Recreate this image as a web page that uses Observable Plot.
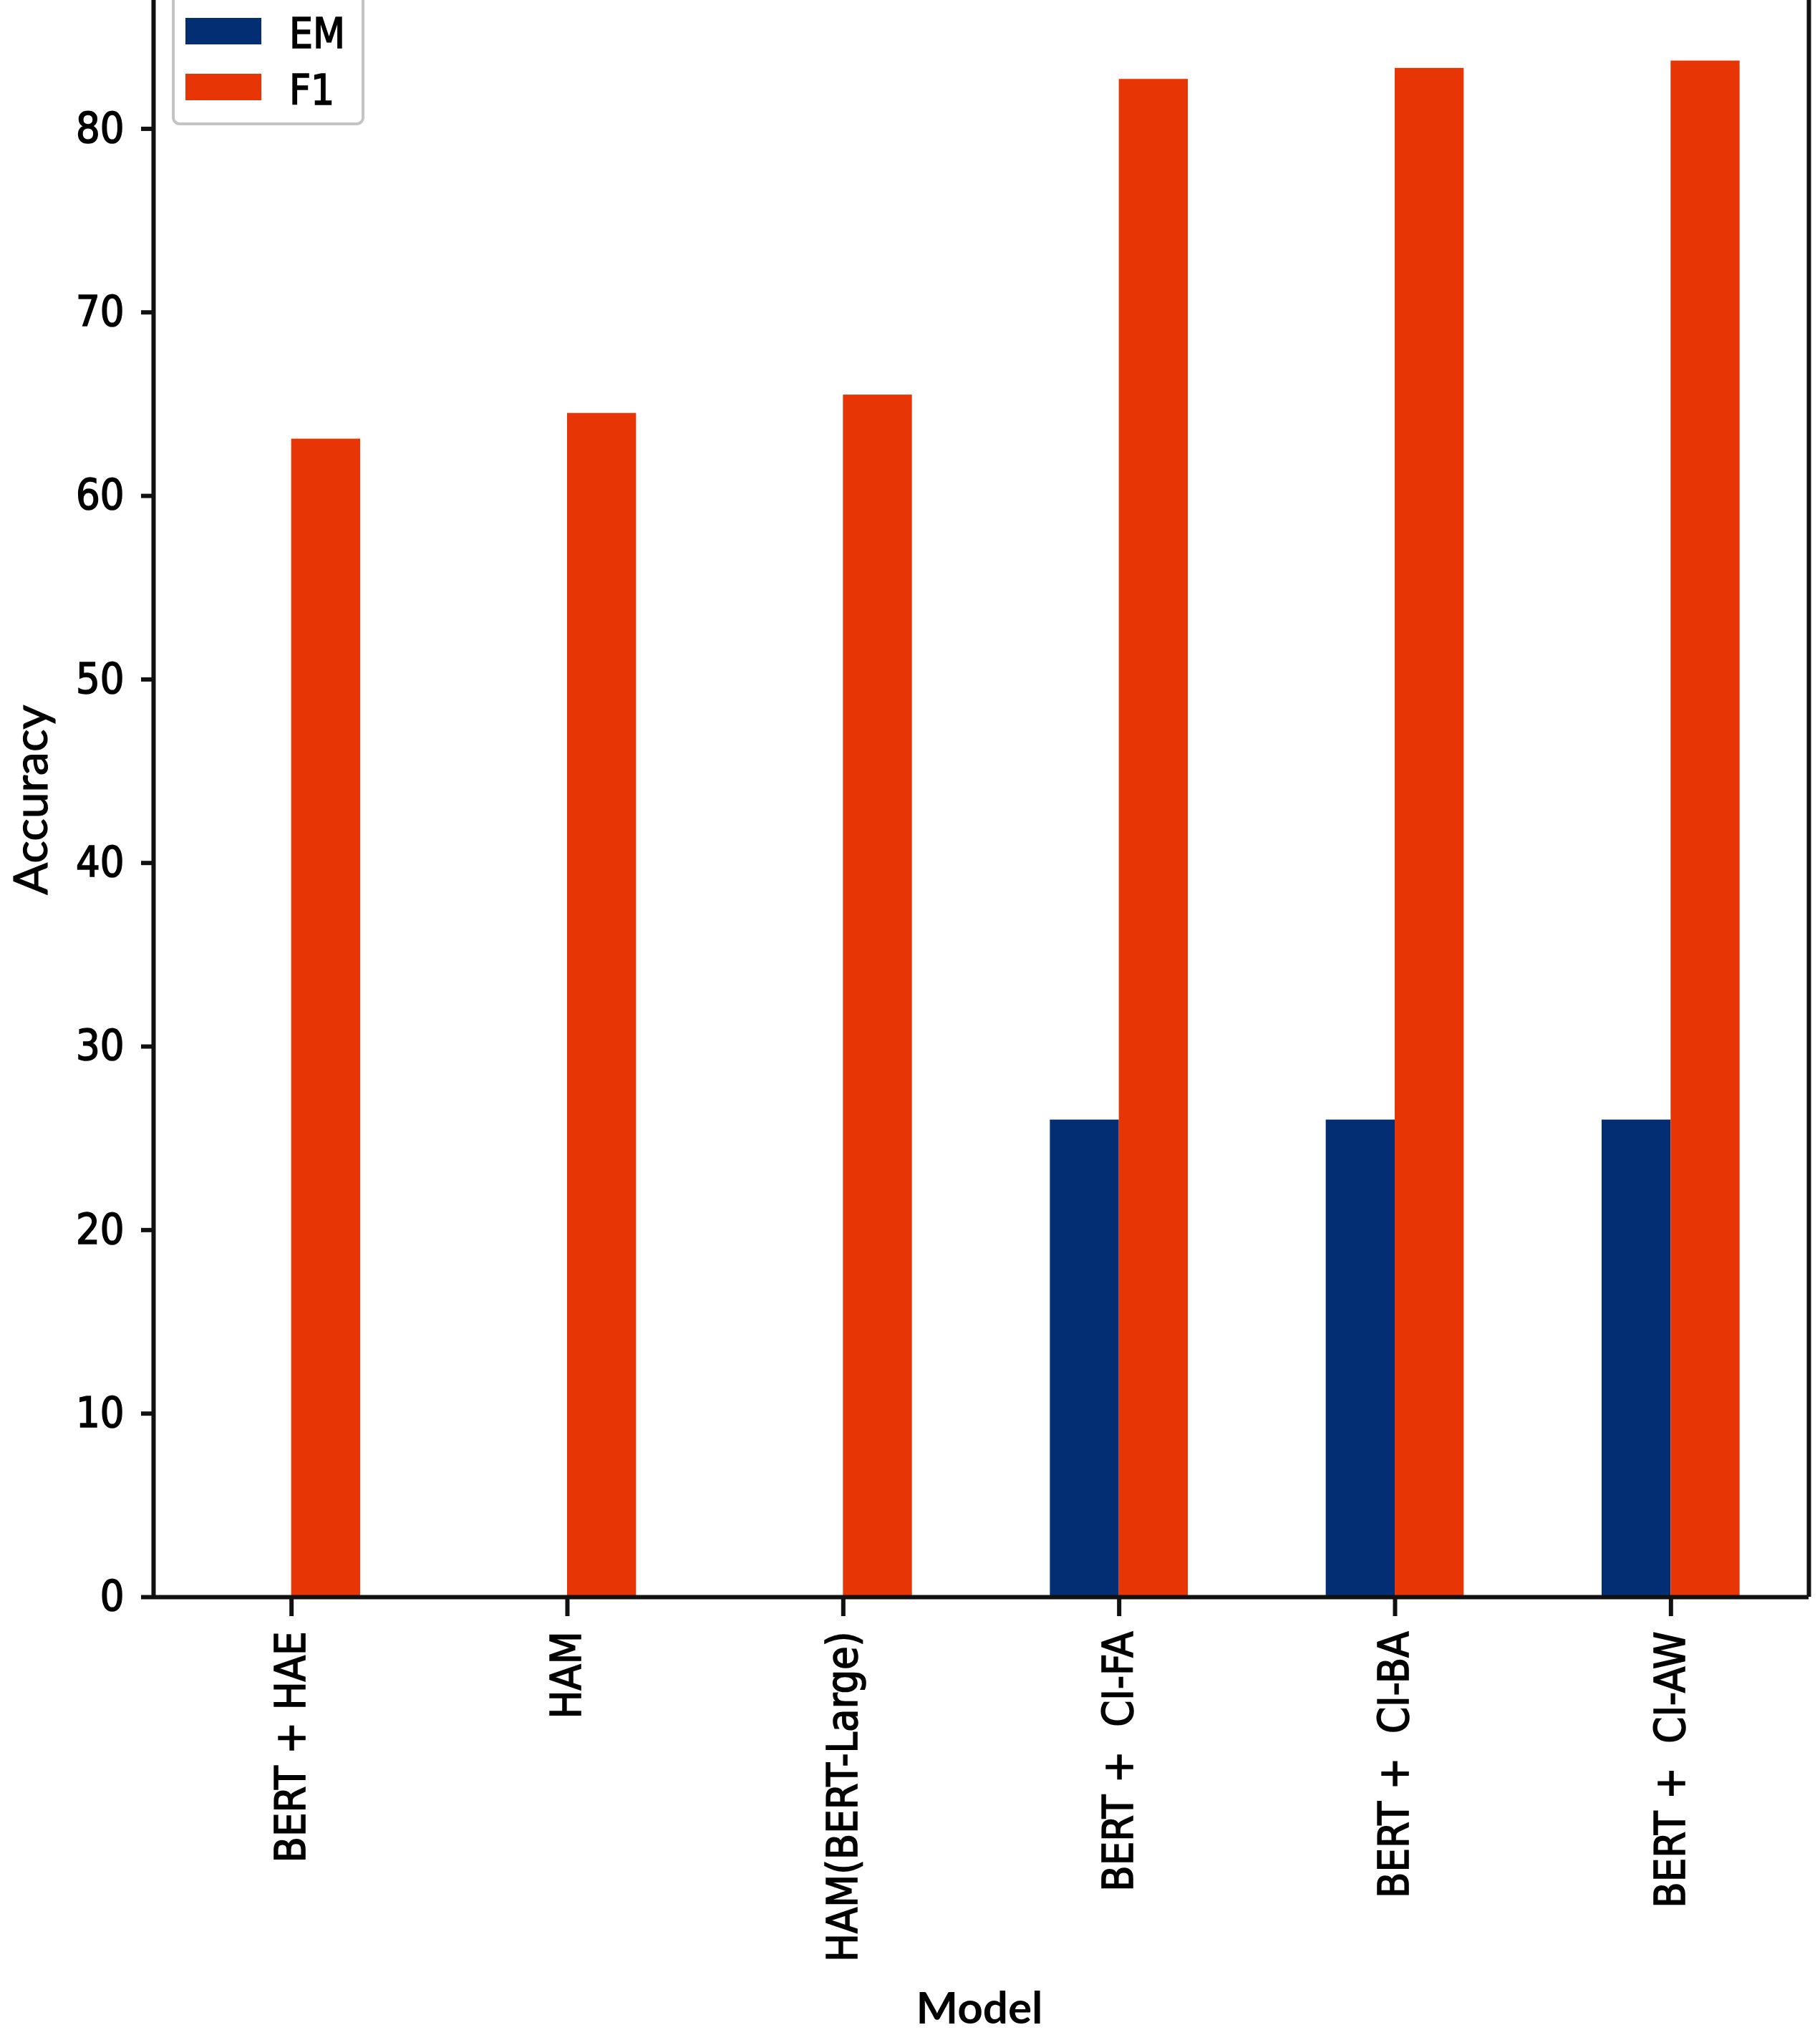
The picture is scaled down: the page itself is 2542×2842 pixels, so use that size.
<!DOCTYPE html>
<html>
<head>
<meta charset="utf-8">
<script src="https://cdn.jsdelivr.net/npm/d3@7"></script>
<script src="https://cdn.jsdelivr.net/npm/@observablehq/plot@0.6"></script>
<style>
  html, body { margin: 0; padding: 0; background: #fff; }
  #chart { width: 2542px; height: 2842px; overflow: hidden; position: relative; }
  #chart svg text { white-space: pre; }
  #chart svg [aria-label^="y-axis"] line,
  #chart svg [aria-label^="x-axis"] line,
  #chart svg [aria-label^="y-axis"] path,
  #chart svg [aria-label^="x-axis"] path { stroke-width: 6px; stroke: #111; }
  #chart svg [aria-label^="y-axis"] text,
  #chart svg [aria-label^="x-axis"] text { stroke: #000; stroke-width: 1.6px; }
</style>
</head>
<body>
<div id="chart"></div>
<script>
// ---- data ----
const models = ["BERT + HAE", "HAM", "HAM(BERT-Large)", "BERT +  CI-FA", "BERT +  CI-BA", "BERT +  CI-AW"];
const series = ["EM", "F1"];
const emValues = [null, null, null, 26.0, 26.0, 26.0];
const f1Values = [63.1, 64.5, 65.5, 82.7, 83.3, 83.7];
const yTicks = [0, 10, 20, 30, 40, 50, 60, 70, 80];
const seriesColors = ["#042e74", "#e83505"];
const xLabel = "Model";
const yLabel = "Accuracy";

// ---- build table ----
const valuesBySeries = [emValues, f1Values];
const groupWidth = 0.5;
const barWidth = groupWidth / series.length;
const rows = models.flatMap((m, i) =>
  series.map((s, j) => ({ model: m, i, series: s, j, value: valuesBySeries[j][i] }))
).filter(d => d.value != null);

const tickFont = "'Liberation Sans Narrow', 'DejaVu Sans Condensed', 'Liberation Sans', sans-serif";

const chart = Plot.plot({
  width: 2542,
  height: 2842,
  marginLeft: 214,
  marginRight: 16,
  marginTop: 0,
  marginBottom: 612,
  style: { fontFamily: tickFont, fontSize: "59px", color: "#000", background: "#fff" },
  x: {
    domain: [-0.5, models.length - 0.5],
    ticks: d3.range(models.length),
    tickFormat: i => models[i],
    tickRotate: -90,
    tickSize: 27,
    tickPadding: 21,
    label: null
  },
  y: {
    domain: [0, 87],
    ticks: yTicks,
    tickSize: 17,
    tickPadding: 24,
    label: null
  },
  color: { domain: series, range: seriesColors },
  marks: [
    Plot.rect(rows, {
      x1: d => d.i - groupWidth / 2 + d.j * barWidth,
      x2: d => d.i - groupWidth / 2 + (d.j + 1) * barWidth,
      y1: () => 0,
      y2: "value",
      fill: "series"
    }),
    Plot.ruleY([0], { stroke: "#111", strokeWidth: 6 }),
    Plot.ruleX([-0.5, models.length - 0.5], { stroke: "#111", strokeWidth: 6 })
  ]
});

document.getElementById("chart").appendChild(chart);

// ---- axis titles and legend ----
const svg = d3.select(chart);
const color = chart.scale("color");

svg.append("text")
  .attr("transform", "translate(66,1117) rotate(-90)")
  .attr("text-anchor", "middle")
  .attr("font-family", "Lato, 'Open Sans', sans-serif")
  .attr("font-size", 66)
  .attr("fill", "#000")
  .attr("stroke", "#000").attr("stroke-width", 1.2)
  .text(yLabel);

svg.append("text")
  .attr("x", 1368)
  .attr("y", 2826)
  .attr("text-anchor", "middle")
  .attr("font-family", "Lato, 'Open Sans', sans-serif")
  .attr("font-weight", 700)
  .attr("font-size", 62)
  .attr("fill", "#000")
  .text(xLabel);

const legend = svg.append("g");
legend.append("rect")
  .attr("x", 242).attr("y", -20)
  .attr("width", 265).attr("height", 193)
  .attr("rx", 9)
  .attr("fill", "#fff").attr("fill-opacity", 0.9)
  .attr("stroke", "#c4c4c4").attr("stroke-width", 4);

series.forEach((s, k) => {
  legend.append("rect")
    .attr("x", 259).attr("y", 25 + k * 78)
    .attr("width", 106).attr("height", 37)
    .attr("fill", color.apply(s));
  legend.append("text")
    .attr("x", 404).attr("y", 67 + k * 79)
    .attr("text-anchor", "start")
    .attr("font-family", tickFont)
    .attr("font-size", 58)
    .attr("fill", "#000")
    .attr("stroke", "#000").attr("stroke-width", 1.6)
    .text(s);
});
</script>
</body>
</html>
